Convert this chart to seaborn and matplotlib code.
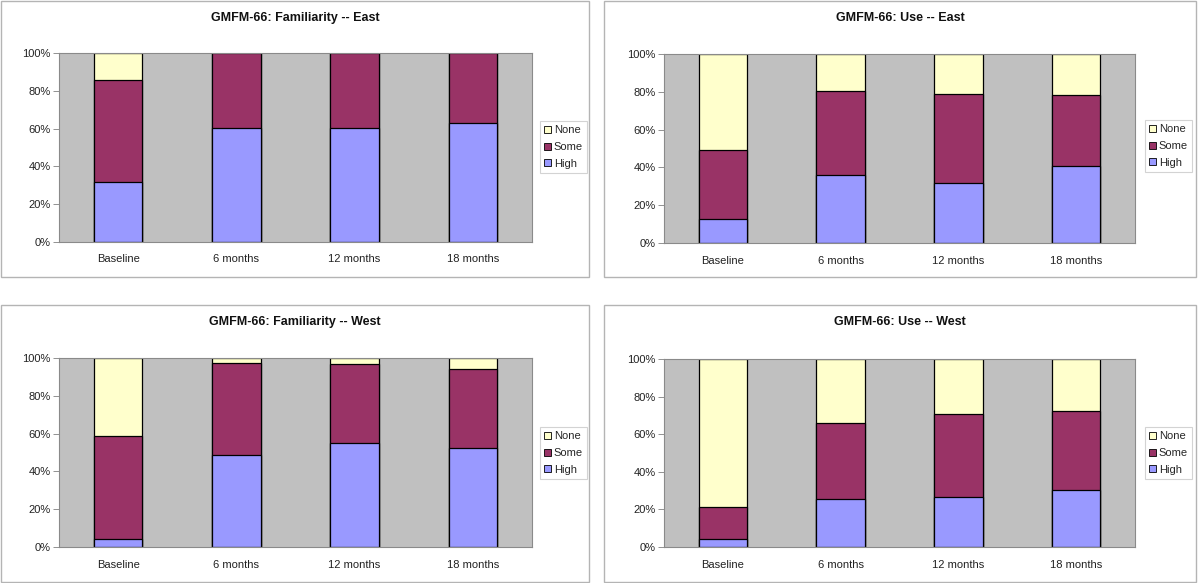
import matplotlib
matplotlib.use("Agg")
import matplotlib.pyplot as plt
import seaborn as sns
import pandas as pd
from matplotlib.patches import Patch, Rectangle

# ---------------- data ----------------
categories = ["Baseline", "6 months", "12 months", "18 months"]
levels = ["None", "Some", "High"]

fam_east_high = [32.0, 60.5, 60.5, 62.7]
fam_east_some = [53.8, 39.5, 39.5, 37.3]
fam_east_none = [14.2, 0.0, 0.0, 0.0]

use_east_high = [12.5, 36.2, 31.8, 40.8]
use_east_some = [36.5, 44.2, 46.8, 37.3]
use_east_none = [51.0, 19.6, 21.4, 21.9]

fam_west_high = [4.0, 48.9, 55.2, 52.6]
fam_west_some = [54.6, 48.6, 41.8, 41.8]
fam_west_none = [41.4, 2.5, 3.0, 5.6]

use_west_high = [4.2, 25.4, 26.5, 30.3]
use_west_some = [17.1, 40.4, 44.2, 42.0]
use_west_none = [78.7, 34.2, 29.3, 27.7]

titles = ["GMFM-66: Familiarity -- East", "GMFM-66: Use -- East",
          "GMFM-66: Familiarity -- West", "GMFM-66: Use -- West"]
yticks = [0, 20, 40, 60, 80, 100]
ytick_labels = ["0%", "20%", "40%", "60%", "80%", "100%"]

panels = [
    (fam_east_high, fam_east_some, fam_east_none),
    (use_east_high, use_east_some, use_east_none),
    (fam_west_high, fam_west_some, fam_west_none),
    (use_west_high, use_west_some, use_west_none),
]

colors = {"High": "#9999FF", "Some": "#993366", "None": "#FFFFCC"}

# ---------------- figure ----------------
sns.set_style("white")
plt.rcParams["font.family"] = ["Liberation Sans", "DejaVu Sans"]

W, H = 1200, 583
fig = plt.figure(figsize=(W / 100, H / 100), dpi=100)

def fx(px):
    return px / W

def fy(py):
    return 1 - py / H

# pixel geometry: (box x0, y0, x1, y1), (plot x0, y0, x1, y1), legend center
geo = [
    ((1, 1, 589, 277), (59, 53, 532, 242), (563.5, 147)),
    ((604, 1, 1196, 277), (664, 54, 1135, 243), (1168.5, 146)),
    ((1, 305, 589, 582), (59, 358, 532, 547), (563.5, 453)),
    ((604, 305, 1196, 582), (664, 359, 1135, 547), (1168.5, 453)),
]

for (high, some, none), title, (box, plot, leg) in zip(panels, titles, geo):
    bx0, by0, bx1, by1 = box
    fig.patches.append(Rectangle((fx(bx0), fy(by1)), fx(bx1 - bx0), (by1 - by0) / H,
                                 transform=fig.transFigure, fill=False,
                                 edgecolor="#b4b4b4", linewidth=1.0))
    px0, py0, px1, py1 = plot
    ax = fig.add_axes([fx(px0), fy(py1), fx(px1 - px0), (py1 - py0) / H])
    ax.set_facecolor("#C0C0C0")

    df = pd.DataFrame({"period": categories, "High": high, "Some": some, "None": none})
    df["cum_high"] = df["High"]
    df["cum_some"] = df["High"] + df["Some"]
    df["cum_none"] = df["High"] + df["Some"] + df["None"]

    for col, lev in [("cum_none", "None"), ("cum_some", "Some"), ("cum_high", "High")]:
        sns.barplot(data=df, x="period", y=col, order=categories, color=colors[lev],
                    saturation=1, edgecolor="black", linewidth=0.9, width=0.41,
                    errorbar=None, ax=ax)

    ax.set_xlim(-0.5, 3.5)
    ax.set_ylim(0, 100)
    ax.set_xlabel("")
    ax.set_ylabel("")
    ax.set_yticks(yticks)
    ax.set_yticklabels(ytick_labels, fontsize=8, color="#222222")
    ax.set_xticks(range(len(categories)))
    ax.set_xticklabels(categories, fontsize=8, color="#222222")
    ax.set_xticks([-0.5, 0.5, 1.5, 2.5, 3.5], minor=True)
    ax.tick_params(axis="x", which="major", length=0, pad=9)
    ax.tick_params(axis="x", which="minor", length=4, width=0.6, color="#808080", direction="out")
    ax.tick_params(axis="y", length=4, width=0.6, color="#808080", direction="out", pad=2, left=True)
    for sp in ax.spines.values():
        sp.set_visible(True)
        sp.set_color("#8a8a8a")
        sp.set_linewidth(0.8)
    ax.grid(False)

    cx = (bx0 + bx1) / 2
    fig.text(fx(cx), fy(by0 + 17), title, ha="center", va="center",
             fontsize=9, fontweight="bold", color="#111111")

    handles = [Patch(facecolor=colors[l], edgecolor="black", linewidth=0.6) for l in levels]
    lg = fig.legend(handles, levels, loc="center", bbox_to_anchor=(fx(leg[0]), fy(leg[1])),
                    fontsize=8, frameon=True, fancybox=False, handlelength=0.6,
                    handleheight=0.6, handletextpad=0.25, labelspacing=0.6,
                    borderpad=0.4, borderaxespad=0)
    lg.get_frame().set_edgecolor("#c8c8c8")
    lg.get_frame().set_linewidth(0.8)

fig.savefig("out.png", dpi=100, facecolor="white")
